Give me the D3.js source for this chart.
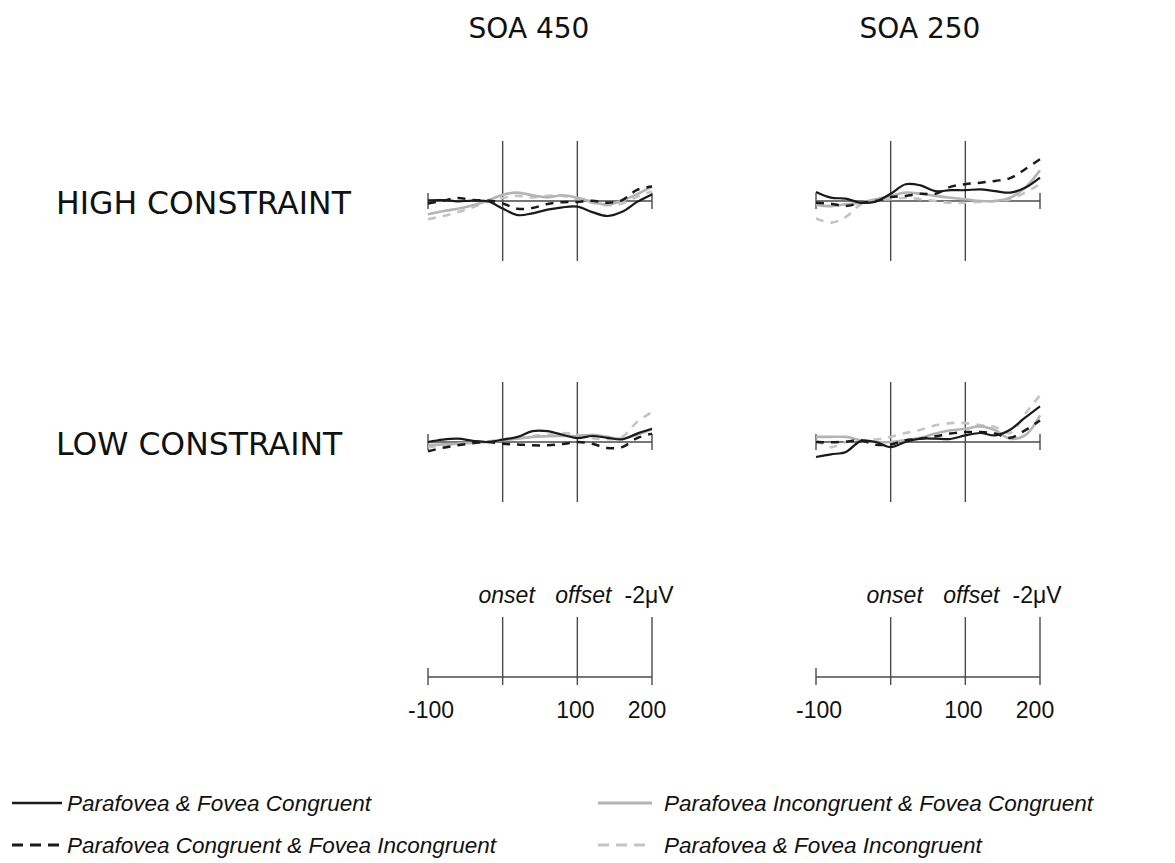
<!DOCTYPE html>
<html>
<head>
<meta charset="utf-8">
<script src="https://cdn.jsdelivr.net/npm/d3@7"></script>
<style>
html,body{margin:0;padding:0;background:#fff;}
svg{display:block;}
</style>
</head>
<body>
<svg id="chart" width="1175" height="863"></svg>
<script>
// ---------- DATA ----------
const times = [-100,-80,-60,-40,-20,0,20,40,60,80,100,120,140,160,180,200]; // ms
const columns = ["SOA 450","SOA 250"];
const rows = ["HIGH CONSTRAINT","LOW CONSTRAINT"];
const seriesNames = [
  "Parafovea & Fovea Congruent",
  "Parafovea Congruent & Fovea Incongruent",
  "Parafovea Incongruent & Fovea Congruent",
  "Parafovea & Fovea Incongruent"
];
// amplitudes in microvolts (negative plotted up)
// HIGH CONSTRAINT, SOA 450
const high450_PFC   = [-0.02,-0.03,0.01,-0.01,0.01,0.25,0.47,0.41,0.29,0.21,0.19,0.37,0.50,0.36,0.03,-0.22];
const high450_PCFI  = [0.08,-0.01,-0.10,-0.03,-0.02,0.08,0.26,0.23,0.10,0.04,0.03,-0.01,0.06,-0.03,-0.37,-0.48];
const high450_PIFC  = [0.44,0.34,0.26,0.14,-0.01,-0.21,-0.28,-0.19,-0.12,-0.19,-0.11,0.03,0.12,-0.01,-0.23,-0.48];
const high450_PFI   = [0.61,0.50,0.37,0.21,0.03,-0.10,-0.17,-0.12,-0.17,-0.17,-0.06,0.06,0.14,0.08,-0.14,-0.32];
// HIGH CONSTRAINT, SOA 250
const high250_PFC   = [-0.30,-0.11,-0.08,0.06,0.02,-0.24,-0.56,-0.52,-0.33,-0.36,-0.36,-0.39,-0.33,-0.28,-0.44,-0.78];
const high250_PCFI  = [0.06,0.09,0.17,0.06,0.00,-0.13,-0.17,-0.24,-0.24,-0.47,-0.56,-0.61,-0.67,-0.76,-1.06,-1.39];
const high250_PIFC  = [0.13,0.17,0.11,0.06,-0.06,-0.17,-0.28,-0.24,-0.17,-0.11,-0.06,0.00,0.00,-0.11,-0.44,-1.02];
const high250_PFI   = [0.58,0.72,0.53,0.11,-0.03,-0.06,-0.11,-0.06,0.00,0.06,0.06,0.02,0.00,-0.06,-0.28,-0.56];
// LOW CONSTRAINT, SOA 450
const low450_PFC    = [0.00,-0.08,-0.11,-0.04,0.00,-0.08,-0.17,-0.36,-0.36,-0.24,-0.13,-0.20,-0.14,-0.09,-0.28,-0.44];
const low450_PCFI   = [0.31,0.19,0.11,0.04,0.00,0.06,0.08,0.11,0.11,0.07,0.00,0.06,0.20,0.17,-0.13,-0.28];
const low450_PIFC   = [0.11,0.08,0.06,0.02,0.00,-0.06,-0.11,-0.17,-0.19,-0.20,-0.20,-0.24,-0.17,-0.11,-0.24,-0.42];
const low450_PFI    = [0.17,0.11,0.07,0.00,-0.02,-0.09,-0.13,-0.20,-0.24,-0.30,-0.24,-0.13,-0.09,-0.17,-0.67,-1.00];
// LOW CONSTRAINT, SOA 250
const low250_PFC    = [0.50,0.41,0.33,-0.03,0.00,0.17,0.00,-0.11,-0.11,-0.10,-0.22,-0.30,-0.22,-0.41,-0.81,-1.19];
const low250_PCFI   = [0.00,0.01,-0.01,-0.06,0.09,0.08,-0.06,-0.11,-0.19,-0.28,-0.33,-0.33,-0.28,-0.14,-0.39,-0.72];
const low250_PIFC   = [-0.17,-0.17,-0.17,-0.06,0.00,0.00,-0.06,-0.14,-0.28,-0.39,-0.44,-0.52,-0.39,-0.11,-0.22,-0.89];
const low250_PFI    = [-0.06,0.17,0.00,-0.06,-0.08,-0.17,-0.30,-0.41,-0.56,-0.63,-0.63,-0.56,-0.50,-0.30,-0.94,-1.56];

const markerTimes = [0, 100];           // onset, offset
const keyTopLabels = ["onset","offset","-2\u03BCV"];
const keyTopTimes = [0, 100, 200];
const keyTickLabels = ["-100","100","200"];
const keyTickTimes = [-100, 100, 200];
const scaleBar = -2; // µV

// ---------- LAYOUT ----------
const svg = d3.select("#chart");
const colX = [[428,652],[816,1040]];
const rowBase = [201,442];
const keyBase = 677;
const halfH = 60;

const panelData = [
  [[high450_PFC,high450_PCFI,high450_PIFC,high450_PFI],[high250_PFC,high250_PCFI,high250_PIFC,high250_PFI]],
  [[low450_PFC,low450_PCFI,low450_PIFC,low450_PFI],[low250_PFC,low250_PCFI,low250_PIFC,low250_PFI]]
];
const styles = [
  {color:"#1a1a1a", dash:null, w:2.2},
  {color:"#1a1a1a", dash:"8,7", w:2.5},
  {color:"#b4b4b4", dash:null, w:2.6},
  {color:"#c4c4c4", dash:"8,7", w:2.6}
];
const axisColor = "#4a4a4a";

// column titles
svg.selectAll("text.coltitle").data(columns).enter().append("text")
  .attr("x",(d,i)=> i===0 ? 529 : 920).attr("y",38)
  .attr("text-anchor","middle")
  .style("font-family","'DejaVu Sans', Verdana, sans-serif")
  .style("font-size","28px").attr("fill","#111").text(d=>d);

// row labels
svg.selectAll("text.rowlabel").data(rows).enter().append("text")
  .attr("x",56).attr("y",(d,i)=>rowBase[i]+13)
  .style("font-family","'DejaVu Sans', Verdana, sans-serif")
  .style("font-size","31.5px").attr("fill","#111").text(d=>d);

const line = (x,y)=> d3.line().x((d,i)=>x(times[i])).y(d=>y(d)).curve(d3.curveCatmullRom.alpha(0.5));

for (let r=0;r<2;r++){
  for (let c=0;c<2;c++){
    const x = d3.scaleLinear().domain([-100,200]).range(colX[c]);
    const b = rowBase[r];
    const y = d3.scaleLinear().domain([-2,2]).range([b-halfH,b+halfH]);
    const g = svg.append("g");
    g.append("line").attr("x1",x(-100)).attr("x2",x(200)).attr("y1",y(0)).attr("y2",y(0))
      .attr("stroke",axisColor).attr("stroke-width",1.4);
    [-100,200].forEach(t=>{
      g.append("line").attr("x1",x(t)).attr("x2",x(t)).attr("y1",y(0)-8).attr("y2",y(0)+8)
        .attr("stroke",axisColor).attr("stroke-width",1.4);
    });
    markerTimes.forEach(t=>{
      g.append("line").attr("x1",x(t)).attr("x2",x(t)).attr("y1",y(-2)).attr("y2",y(2))
        .attr("stroke",axisColor).attr("stroke-width",1.4);
    });
    [3,2,1,0].forEach(s=>{
      g.append("path").datum(panelData[r][c][s])
        .attr("d",line(x,y)).attr("fill","none")
        .attr("stroke",styles[s].color).attr("stroke-width",styles[s].w)
        .attr("stroke-dasharray",styles[s].dash)
        .attr("stroke-linejoin","round");
    });
  }
}

// key / scale panels
const topDx = [4,6,-3];
const botDx = [3,-2,-5];
for (let c=0;c<2;c++){
  const x = d3.scaleLinear().domain([-100,200]).range(colX[c]);
  const y = d3.scaleLinear().domain([scaleBar,0]).range([keyBase-halfH,keyBase]);
  const g = svg.append("g");
  g.append("line").attr("x1",x(-100)).attr("x2",x(200)).attr("y1",y(0)).attr("y2",y(0))
    .attr("stroke",axisColor).attr("stroke-width",1.4);
  g.append("line").attr("x1",x(-100)).attr("x2",x(-100)).attr("y1",y(0)-9).attr("y2",y(0)+8)
    .attr("stroke",axisColor).attr("stroke-width",1.4);
  keyTopTimes.forEach(t=>{
    g.append("line").attr("x1",x(t)).attr("x2",x(t)).attr("y1",y(scaleBar)).attr("y2",y(0)+8)
      .attr("stroke",axisColor).attr("stroke-width",1.4);
  });
  g.selectAll("text.top").data(keyTopLabels).enter().append("text")
    .attr("x",(d,i)=>x(keyTopTimes[i])+topDx[i]).attr("y",603)
    .attr("text-anchor","middle")
    .style("font-family","'Liberation Sans', Arial, sans-serif")
    .style("font-size","23px")
    .style("font-style",(d,i)=> i<2 ? "italic" : "normal")
    .attr("fill","#111").text(d=>d);
  g.selectAll("text.bot").data(keyTickLabels).enter().append("text")
    .attr("x",(d,i)=>x(keyTickTimes[i])+botDx[i]).attr("y",718)
    .attr("text-anchor","middle")
    .style("font-family","'Liberation Sans', Arial, sans-serif")
    .style("font-size","23px").attr("fill","#111").text(d=>d);
}

// legend
const legPos = [
  {x1:12,x2:62,tx:67,y:803},
  {x1:12,x2:62,tx:67,y:845},
  {x1:598,x2:652,tx:664,y:803},
  {x1:598,x2:652,tx:664,y:845}
];
const leg = svg.append("g");
seriesNames.forEach((n,i)=>{
  const p = legPos[i];
  leg.append("line").attr("x1",p.x1).attr("x2",p.x2).attr("y1",p.y).attr("y2",p.y)
    .attr("stroke",styles[i].color).attr("stroke-width",styles[i].w+0.4)
    .attr("stroke-dasharray",styles[i].dash ? "11,7" : null);
  leg.append("text").attr("x",p.tx).attr("y",p.y+8)
    .style("font-family","'Liberation Sans', Arial, sans-serif")
    .style("font-size","22.5px").style("font-style","italic")
    .attr("fill","#111").text(n);
});
</script>
</body>
</html>
